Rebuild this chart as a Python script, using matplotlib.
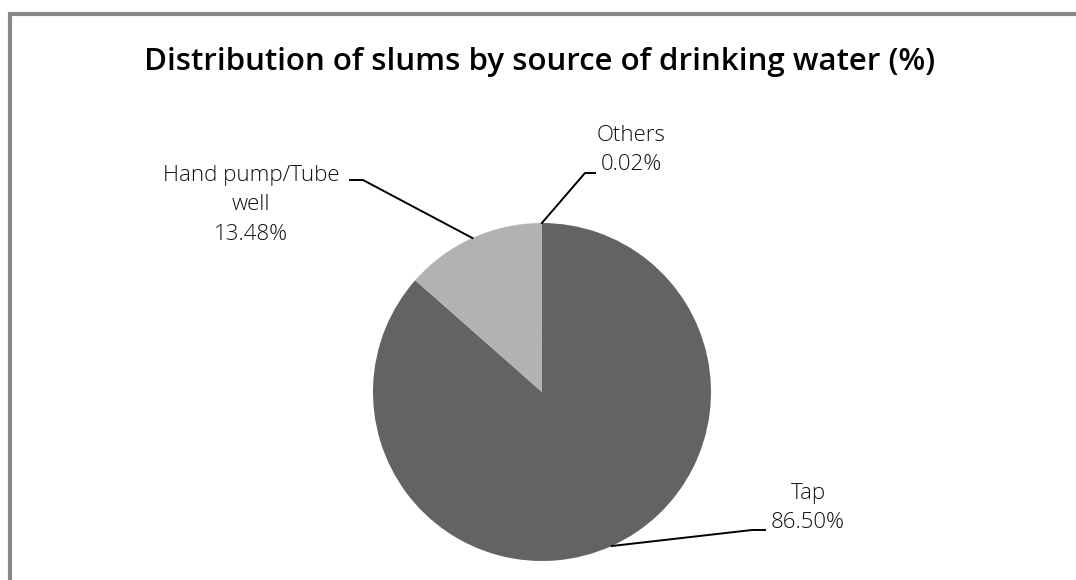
import numpy as np
import matplotlib.pyplot as plt

# data
sources = ["Tap", "Hand pump/Tube\nwell", "Others"]
shares = [86.50, 13.48, 0.02]
colors = ["#636363", "#b2b2b2", "#8c8c8c"]

# label text positions (pixel coords, y up) and the elbow of each leader line
label_pos = [(808, 72), (251, 375), (631, 430)]
elbow = [(765, 50), (363, 400), (595, 407)]
knee = [(752, 50), (350, 400), (585, 407)]

W, H = 1076, 580
fig = plt.figure(figsize=(W / 100, H / 100), dpi=100)
ax = fig.add_axes([0, 0, 1, 1])

cx, cy, r = 542, H - 392, 169
wedges, _ = ax.pie(shares, colors=colors, startangle=90, counterclock=False,
                   center=(cx, cy), radius=r, frame=True,
                   wedgeprops=dict(linewidth=0))
ax.set_xlim(0, W)
ax.set_ylim(0, H)
ax.set_aspect("equal")
ax.axis("off")

font = "Open Sans"
for i, w in enumerate(wedges):
    mid = np.deg2rad((w.theta1 + w.theta2) / 2)
    ex, ey = cx + r * np.cos(mid), cy + r * np.sin(mid)
    kx, ky = knee[i]
    ox, oy = elbow[i]
    if i == 1:
        ax.plot([ex, ox, kx], [ey, oy, ky], color="black", lw=1.4)
    else:
        ax.plot([ex, kx, ox], [ey, ky, oy], color="black", lw=1.4)
    lx, ly = label_pos[i]
    txt = f"{sources[i]}\n{shares[i]:.2f}%"
    ax.text(lx, ly, txt, ha="center", va="center", fontsize=16,
            family=font, color="#111111", linespacing=1.5, fontweight="light")

ax.text(540, H - 62, "Distribution of slums by source of drinking water (%)",
        ha="center", va="center", fontsize=22.5, family=font, fontweight="semibold")

# grey chart frame (right and bottom edges fall outside the image)
ax.plot([9.5, 9.5, W + 5], [-5, H - 13.5, H - 13.5], color="#888888", lw=3,
        solid_capstyle="butt", solid_joinstyle="miter")

fig.savefig("out.png", dpi=100, facecolor="white")
